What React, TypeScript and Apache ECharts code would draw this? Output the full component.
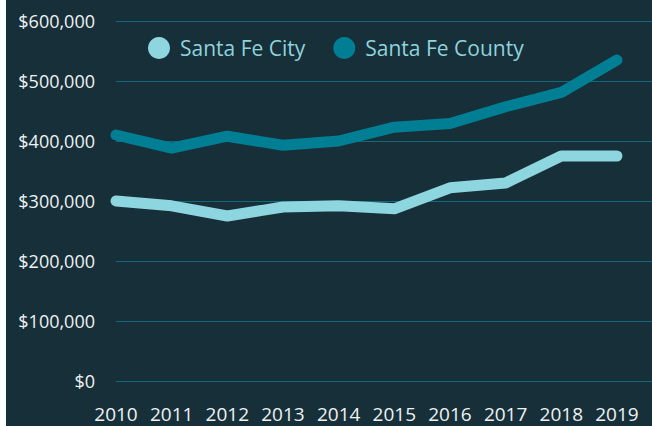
import React, { useEffect, useRef } from "react";
import * as echarts from "echarts";

const years = [2010, 2011, 2012, 2013, 2014, 2015, 2016, 2017, 2018, 2019];
const cityValues = [300000, 292000, 275000, 290000, 292000, 287000, 322000, 330000, 375000, 375000];
const countyValues = [410000, 388000, 408000, 393000, 400000, 423000, 429000, 457000, 481000, 535000];
const yTicks = [0, 100000, 200000, 300000, 400000, 500000, 600000];

const BG = "#162f38";
const FONT = "'Open Sans', sans-serif";

export default function App() {
  const ref = useRef<HTMLDivElement>(null);
  useEffect(() => {
    if (!ref.current) return;
    const chart = echarts.init(ref.current, undefined, { renderer: "svg" });
    chart.setOption({
      animation: false,
      backgroundColor: BG,
      grid: { left: 110, right: 0, top: 21, bottom: 45 },
      legend: {
        left: 137,
        top: 32,
        padding: 5,
        icon: "circle",
        itemWidth: 22,
        itemHeight: 22,
        itemGap: 28,
        textStyle: {
          color: "#8fd3dc",
          fontSize: 21,
          fontFamily: FONT,
          padding: [0, 0, 0, 5],
        },
        data: ["Santa Fe City", "Santa Fe County"],
      },
      xAxis: {
        type: "value",
        min: 2010,
        max: 2019.63,
        interval: 1,
        axisLine: { show: false },
        axisTick: { show: false },
        splitLine: { show: false },
        axisLabel: {
          color: "#eef2f3",
          fontSize: 19,
          fontFamily: FONT,
          margin: 23,
          showMaxLabel: false,
          formatter: (v: number) => (Number.isInteger(v) && years.includes(v) ? String(v) : ""),
        },
      },
      yAxis: {
        type: "value",
        min: yTicks[0],
        max: yTicks[yTicks.length - 1],
        interval: 100000,
        axisLine: { show: false },
        axisTick: { show: false },
        splitLine: { show: true, lineStyle: { color: "#11697b", width: 1 } },
        axisLabel: {
          color: "#eef2f3",
          fontSize: 18,
          fontFamily: FONT,
          margin: 21,
          formatter: (v: number) => "$" + v.toLocaleString("en-US"),
        },
      },
      series: [
        {
          name: "Santa Fe City",
          type: "line",
          data: years.map((y, i) => [y, cityValues[i]]),
          showSymbol: false,
          symbol: "none",
          itemStyle: { color: "#8dd5df" },
          lineStyle: { color: "#8dd5df", width: 11, cap: "round", join: "round" },
          z: 3,
        },
        {
          name: "Santa Fe County",
          type: "line",
          data: years.map((y, i) => [y, countyValues[i]]),
          showSymbol: false,
          symbol: "none",
          itemStyle: { color: "#007e94" },
          lineStyle: { color: "#007e94", width: 11, cap: "round", join: "round" },
          z: 3,
        },
      ],
    });
    return () => chart.dispose();
  }, []);
  return (
    <div
      ref={ref}
      style={{ position: "fixed", left: 6, top: 0, width: 646, height: 426 }}
    />
  );
}
